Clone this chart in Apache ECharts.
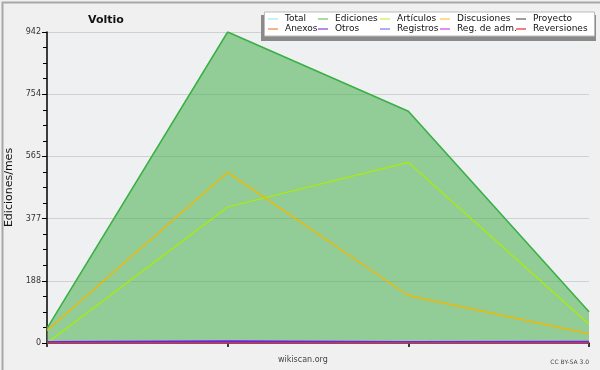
<!DOCTYPE html>
<html><head><meta charset="utf-8">
<script src="https://cdn.jsdelivr.net/npm/echarts@6/dist/echarts.min.js"></script>
<style>html,body{margin:0;padding:0;background:#f0f0f0}#c{width:600px;height:370px}</style>
</head><body><div id="c"></div>
<script>
const categories = ['M1','M2','M3','M4'];
const total = [44, 942, 702, 95];
const ediciones = [44, 942, 702, 95];
const articulos = [0, 412, 547, 57];
const discusiones = [38, 517, 144, 28];
const proyecto = [0, 0, 0, 0];
const anexos = [0, 0, 0, 0];
const otros = [3, 5, 3, 4];
const registros = [1, 2, 1, 1];
const regAdm = [0, 0, 0, 0];
const reversiones = [0, 0, 0, 0];
const yTicks = [0, 188, 377, 565, 754, 942];

const names = ['Total','Ediciones','Artículos','Discusiones','Proyecto','Anexos','Otros','Registros','Reg. de adm.','Reversiones'];
const colors = ['#a8e4e0','#6cc46c','#c8f040','#f8c840','#606060','#f08040','#8040e8','#7878f0','#d048e8','#e83030'];
const lineColors = ['#a8e4e0','#3cb043','#aaee00','#f0b800','#606060','#f08040','#7a1ee8','#3030b0','#d048e8','#e83030'];
const datas = [total, ediciones, articulos, discusiones, proyecto, anexos, otros, registros, regAdm, reversiones];

const FONT = 'DejaVu Sans';
const chart = echarts.init(document.getElementById('c'));
const ymax = yTicks[yTicks.length-1];
const interval = ymax / 5;

const series = names.map((n,i) => {
  const s = {
    name: n, type: 'line', data: datas[i], symbol: 'none', smooth: false,
    lineStyle: {color: lineColors[i], width: (i===6)?2:(i===3?1.4:1.2)},
    itemStyle: {color: colors[i]},
    z: 2 + i
  };
  if (n === 'Ediciones') {
    s.areaStyle = {color: 'rgba(75,175,82,0.57)', opacity: 1};
    s.lineStyle.width = 1.5;
    s.z = 1;
  }
  if (n === 'Total') s.z = 0;
  return s;
});

const cols = [268, 318, 380, 440, 516];
const legends = cols.map((x, c) => ({
  orient: 'vertical', left: x, top: 14.5, padding: 0, itemGap: 1, itemWidth: 10, itemHeight: 1.2,
  z: 30,
  icon: 'rect',
  textStyle: {fontFamily: FONT, fontSize: 9, color: '#111', padding: [0,0,0,2]},
  selectedMode: false,
  data: [names[c], names[c+5]].map(n => {
    const k = names.indexOf(n);
    return {name: n, icon: 'rect', itemStyle: {color: colors[k], borderWidth: 0}, lineStyle: {color: colors[k], width: 0}};
  })
}));

chart.setOption({
  backgroundColor: '#f0f0f0',
  animation: false,
  color: colors,
  grid: {left: 47, right: 11, top: 32, bottom: 27, show: true, backgroundColor: '#eef0f2', borderWidth: 0,
    containLabel: false, outerBoundsMode: 'none'},
  title: {text: 'Voltio', left: 83, top: 10,
    textStyle: {fontFamily: FONT, fontWeight: 'bold', fontSize: 11, color: '#111'}},
  legend: legends,
  xAxis: {
    type: 'category', data: categories, boundaryGap: false,
    axisLine: {lineStyle: {color: '#000', width: 1.5}},
    axisTick: {show: true, length: 4, lineStyle: {color: '#000', width: 1.5}},
    axisLabel: {show: false},
    splitLine: {show: false}
  },
  yAxis: {
    type: 'value', min: 0, max: ymax, interval: interval,
    name: 'Ediciones/mes', nameLocation: 'middle', nameGap: 32, nameRotate: 90,
    nameTextStyle: {fontFamily: FONT, fontSize: 11, color: '#111'},
    axisLine: {show: true, lineStyle: {color: '#000', width: 1.5}},
    axisTick: {show: true, length: 5, lineStyle: {color: '#000', width: 1}},
    minorTick: {show: true, splitNumber: 4, length: 4, lineStyle: {color: '#000', width: 1}},
    axisLabel: {fontFamily: FONT, fontSize: 8, color: '#333', margin: 6,
      formatter: v => String(yTicks[Math.round(v/interval)])},
    splitLine: {show: true, lineStyle: {color: '#d0d0d0', width: 1}}
  },
  graphic: [
    {type: 'rect', left: 0, top: 0, shape: {width: 599, height: 369}, style: {fill: 'none', stroke: '#a8a8a8', lineWidth: 2}, z: 100},
    {type: 'rect', left: 261, top: 15, shape: {width: 335, height: 26}, style: {fill: '#8a8a8a'}, z: 5},
    {type: 'rect', left: 264, top: 11.5, shape: {width: 330, height: 24}, style: {fill: '#fff', stroke: '#bbb', lineWidth: 1}, z: 6},
    {type: 'text', left: 278, top: 356, style: {text: 'wikiscan.org', font: '8px "DejaVu Sans"', fill: '#444'}, z: 10},
    {type: 'text', right: 11, top: 359, style: {text: 'CC BY-SA 3.0', font: '6px "DejaVu Sans"', fill: '#444'}, z: 10}
  ],
  series: series
});
</script></body></html>
